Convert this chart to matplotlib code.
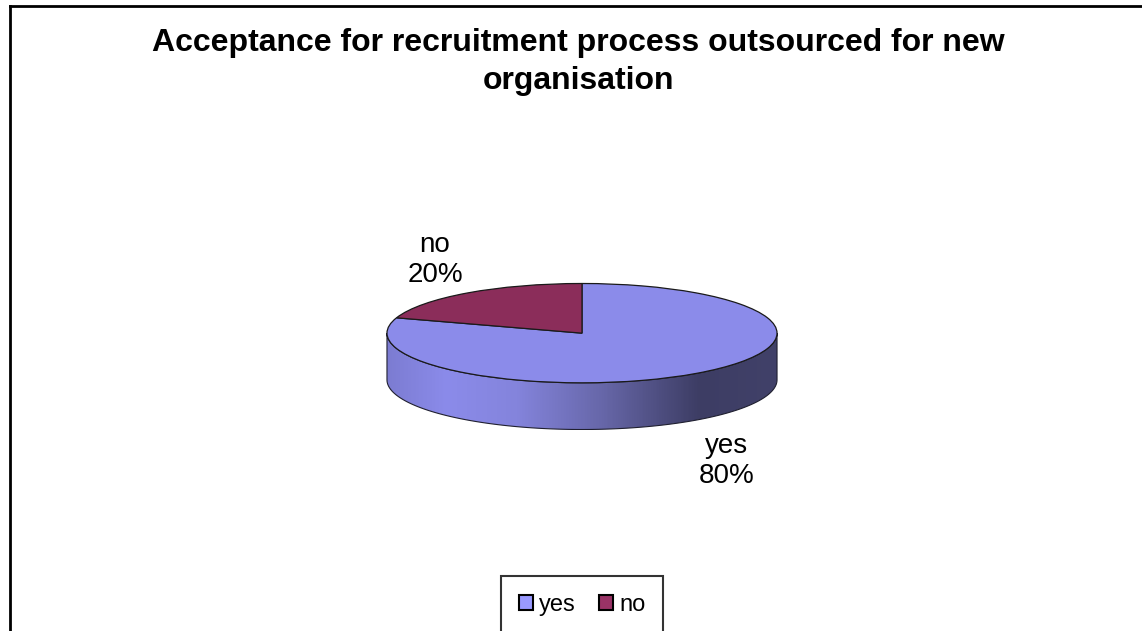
import matplotlib
matplotlib.use("Agg")
import matplotlib.pyplot as plt
from matplotlib.patches import Polygon, Patch
from matplotlib.lines import Line2D
from matplotlib.colors import LinearSegmentedColormap
import numpy as np

plt.rcParams['font.family'] = ['Liberation Sans', 'DejaVu Sans']

# data
categories = ['yes', 'no']
values = [80, 20]
top_colors = ['#8B8BEA', '#8B2D5A']
legend_colors = ['#9999FF', '#993366']
title = 'Acceptance for recruitment process outsourced for new\norganisation'

W, H = 1142, 631
fig = plt.figure(figsize=(W / 100, H / 100), dpi=100)
fig.patch.set_facecolor('white')

# outer chart frame (right and bottom cut off in the reference)
fig.add_artist(Line2D([9.5 / W, 9.5 / W], [0, 1 - 5.5 / H], transform=fig.transFigure,
                      color='black', lw=2))
fig.add_artist(Line2D([9.5 / W, 1], [1 - 5.5 / H, 1 - 5.5 / H], transform=fig.transFigure,
                      color='black', lw=2))

fig.text(578 / W, 1 - 62 / H, title, ha='center', va='center', fontsize=23,
         fontweight='bold', linespacing=1.38)

# pie geometry in pixels
cx, cy, a, b, depth = 582, 333, 196, 50, 47
d = depth / b
ax = fig.add_axes([(cx - a) / W, 1 - (cy + b + depth) / H, 2 * a / W, (2 * b + depth) / H])
ax.axis('off')

# side band with shading
t = np.linspace(np.pi, 2 * np.pi, 200)
upper = np.column_stack([np.cos(t), np.sin(t)])
lower = np.column_stack([np.cos(t[::-1]), np.sin(t[::-1]) - d])
side = Polygon(np.vstack([upper, lower]), closed=True, facecolor='none',
               edgecolor='#202030', lw=0.8, zorder=1)
ax.add_patch(side)
cmap = LinearSegmentedColormap.from_list('side', [
    (0.0, '#7C7CD2'), (0.15, '#8B8BEA'), (0.33, '#8484DC'), (0.55, '#6767A9'),
    (0.8, '#3D3D64'), (1.0, '#414169')])
grad = np.linspace(0, 1, 400).reshape(1, -1)
im = ax.imshow(grad, cmap=cmap, extent=[-1, 1, -1 - d, 0], aspect='auto', zorder=0.9)
im.set_clip_path(side)

wedges, _ = ax.pie(values, colors=top_colors, startangle=90, counterclock=False,
                   wedgeprops=dict(edgecolor='#1a1a1a', linewidth=0.9))
for w in wedges:
    w.set_zorder(2)
ax.set_aspect('auto')
ax.set_xlim(-1.005, 1.005)
ax.set_ylim(-1 - d - 0.01, 1.01)

# data labels
pct = [v * 100 / sum(values) for v in values]
fig.text(727 / W, 1 - 461 / H, f'{categories[0]}\n{pct[0]:.0f}%', ha='center', va='center',
         fontsize=20, linespacing=1.2)
fig.text(435 / W, 1 - 260 / H, f'{categories[1]}\n{pct[1]:.0f}%', ha='center', va='center',
         fontsize=20, linespacing=1.2)

handles = [Patch(facecolor=c, edgecolor='black', lw=1.5) for c in legend_colors]
leg = fig.legend(handles, categories, loc='center', bbox_to_anchor=(582 / W, 1 - 605 / H),
                 ncol=2, fontsize=17, frameon=True, fancybox=False, edgecolor='black',
                 handlelength=0.6, handleheight=0.6, handletextpad=0.25, columnspacing=1.0,
                 borderpad=0.75, borderaxespad=0)
leg.get_frame().set_linewidth(1.5)

plt.savefig('out.png', dpi=100)
